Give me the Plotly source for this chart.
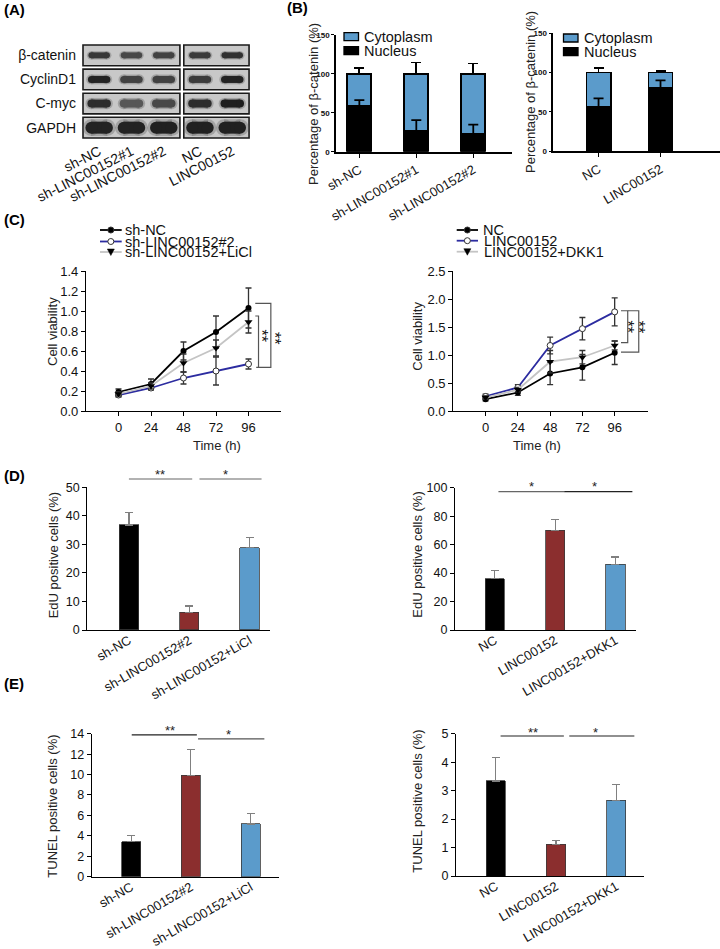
import plotly.graph_objects as go

W, H = 720, 949
FONT = "Arial, Liberation Sans, Helvetica, sans-serif"

# ------------------------------------------------------------------ data
# (A) western blot: relative band intensities (0-1), lanes left->right
blot_proteins = ["β-catenin", "CyclinD1", "C-myc", "GAPDH"]
blot_lanes_kd = ["sh-NC", "sh-LINC00152#1", "sh-LINC00152#2"]
blot_lanes_oe = ["NC", "LINC00152"]
band_beta = [0.75, 0.60, 0.65, 0.72, 0.82]
band_cyclin = [0.95, 0.65, 0.66, 0.72, 0.95]
band_myc = [0.85, 0.45, 0.60, 0.85, 1.00]
band_gapdh = [0.95, 0.95, 0.97, 0.97, 0.97]

# (B) beta-catenin localisation (%)
b_kd_groups = ["sh-NC", "sh-LINC00152#1", "sh-LINC00152#2"]
b_kd_nucleus = [58.5, 26.5, 22.2]
b_kd_nucleus_err = [7.5, 14, 12.6]
b_kd_total = [100, 100, 100]
b_kd_total_err = [7.8, 14.3, 13]
b_oe_groups = ["NC", "LINC00152"]
b_oe_nucleus = [56, 80]
b_oe_nucleus_err = [11, 10]
b_oe_total = [100, 100]
b_oe_total_err = [6, 2]
b_series = ["Cytoplasm", "Nucleus"]

# (C) cell viability
time_h = [0, 24, 48, 72, 96]
c_kd_names = ["sh-NC", "sh-LINC00152#2", "sh-LINC00152+LiCl"]
c_kd_shnc = [0.19, 0.27, 0.60, 0.79, 1.03]
c_kd_shnc_err = [0.03, 0.05, 0.09, 0.16, 0.20]
c_kd_sh2 = [0.16, 0.23, 0.33, 0.40, 0.47]
c_kd_sh2_err = [0.02, 0.02, 0.06, 0.14, 0.05]
c_kd_licl = [0.17, 0.25, 0.48, 0.63, 0.89]
c_kd_licl_err = [0.02, 0.03, 0.09, 0.08, 0.11]
c_oe_names = ["NC", "LINC00152", "LINC00152+DKK1"]
c_oe_nc = [0.21, 0.33, 0.67, 0.78, 1.04]
c_oe_nc_err = [0.03, 0.05, 0.20, 0.23, 0.21]
c_oe_linc = [0.26, 0.42, 1.17, 1.47, 1.77]
c_oe_linc_err = [0.04, 0.05, 0.15, 0.20, 0.25]
c_oe_dkk1 = [0.24, 0.38, 0.88, 0.96, 1.17]
c_oe_dkk1_err = [0.03, 0.04, 0.20, 0.12, 0.08]

# (D) EdU positive cells (%)
d_kd_groups = ["sh-NC", "sh-LINC00152#2", "sh-LINC00152+LiCl"]
d_kd_vals = [36.8, 6.2, 28.8]
d_kd_err = [4.3, 2.2, 3.7]
d_oe_groups = ["NC", "LINC00152", "LINC00152+DKK1"]
d_oe_vals = [36.1, 70.1, 46.2]
d_oe_err = [5.9, 7.7, 5.1]

# (E) TUNEL positive cells (%)
e_kd_groups = ["sh-NC", "sh-LINC00152#2", "sh-LINC00152+LiCl"]
e_kd_vals = [3.43, 9.93, 5.16]
e_kd_err = [0.57, 2.55, 1.04]
e_oe_groups = ["NC", "LINC00152", "LINC00152+DKK1"]
e_oe_vals = [3.34, 1.11, 2.66]
e_oe_err = [0.83, 0.15, 0.56]

# ------------------------------------------------------------------ style
BLACK = "#000000"
RED_BAR = "#8b2e2e"
BLUE_BAR = "#5b9bcb"
C_BLUE = "#2c2ca0"
C_GRAY = "#c4c4c4"


def dom_x(a, b):
    return [a / W, b / W]


def dom_y(top, bottom):
    return [1 - bottom / H, 1 - top / H]


def px(x):
    return x / W


def py(y):
    return 1 - y / H


fig = go.Figure()
shapes = []
annos = []

# ------------------------------------------------------------------ (A) blot
lane_pos = [0, 1, 2, 3.12, 4.12]
bands = [band_beta, band_cyclin, band_myc, band_gapdh]
band_w = [6, 7, 8, 12]
for r, row in enumerate(bands):
    for j, inten in enumerate(row):
        g = int(135 - 105 * inten)
        for wmul, half, col in ((1.4, 0.25, "rgba(95,95,95,0.35)"),
                                (1.0, 0.24, f"rgb({g},{g},{g})")):
            wpx = band_w[r] * wmul
            fig.add_trace(go.Scatter(
                x=[lane_pos[j] - half, lane_pos[j] + half], y=[r, r],
                mode="lines+markers", line=dict(color=col, width=wpx),
                marker=dict(size=wpx, color=col, line=dict(width=0)),
                xaxis="x", yaxis="y", showlegend=False, hoverinfo="skip"))
    for x0, x1 in ((-0.5, 2.5), (2.62, 4.64)):
        shapes.append(dict(type="rect", xref="x", yref="y", x0=x0, x1=x1,
                           y0=r - 0.43, y1=r + 0.43, fillcolor="#c8c8c8",
                           line=dict(color="#1a1a1a", width=1.6), layer="below"))

# ------------------------------------------------------------------ (B)
def add_b(groups, nuc, nuc_err, total, total_err, xa, ya, width):
    fig.add_trace(go.Bar(
        x=groups, y=nuc, name=b_series[1], marker=dict(color=BLACK, line=dict(color=BLACK, width=1.8)),
        width=width, xaxis=xa, yaxis=ya, showlegend=False))
    fig.add_trace(go.Bar(
        x=groups, y=[t - n for t, n in zip(total, nuc)], name=b_series[0],
        marker=dict(color=BLUE_BAR, line=dict(color=BLACK, width=1.8)),
        width=width, error_y=dict(type="data", array=total_err, arrayminus=[0] * len(nuc), symmetric=False,
                                  color=BLACK, thickness=1.8, width=5),
        xaxis=xa, yaxis=ya, showlegend=False))
    # nucleus error bars drawn on top of the stack
    fig.add_trace(go.Scatter(
        x=groups, y=nuc, mode="markers", marker=dict(size=1, opacity=0),
        error_y=dict(type="data", array=nuc_err, arrayminus=[0] * len(nuc), symmetric=False,
                     color=BLACK, thickness=1.8, width=5),
        xaxis=xa, yaxis=ya, showlegend=False, hoverinfo="skip"))


add_b(b_kd_groups, b_kd_nucleus, b_kd_nucleus_err, b_kd_total, b_kd_total_err, "x2", "y2", 0.42)
add_b(b_oe_groups, b_oe_nucleus, b_oe_nucleus_err, b_oe_total, b_oe_total_err, "x3", "y3", 0.39)

# compact legends for B
for (sx, tx, rows) in ((344, 362, (36.7, 50.7)), (563.5, 582, (38, 51.7))):
    for name, col, yy in zip(b_series, [BLUE_BAR, BLACK], rows):
        shapes.append(dict(type="rect", xref="paper", yref="paper", x0=px(sx), x1=px(sx + 14.5),
                           y0=py(yy + 4), y1=py(yy - 4), fillcolor=col,
                           line=dict(color=BLACK, width=1.3)))
        annos.append(dict(text=name, x=px(tx), y=py(yy), xref="paper", yref="paper",
                          xanchor="left", yanchor="middle", showarrow=False,
                          font=dict(family=FONT, size=14.5, color="#111")))

# ------------------------------------------------------------------ (C)
def add_c(names, ys, errs, xa, ya):
    styles = [
        dict(line=dict(color=BLACK, width=1.8), marker=dict(symbol="circle", size=6, color=BLACK)),
        dict(line=dict(color=C_BLUE, width=1.8),
             marker=dict(symbol="circle", size=6, color="white", line=dict(color="#333", width=1))),
        dict(line=dict(color=C_GRAY, width=1.8), marker=dict(symbol="triangle-down", size=7, color=BLACK)),
    ]
    for name, y, e, st in zip(names, ys, errs, styles):
        fig.add_trace(go.Scatter(
            x=time_h, y=y, name=name, mode="lines+markers", **st,
            error_y=dict(type="data", array=e, color="#333", thickness=1.3, width=3),
            xaxis=xa, yaxis=ya, showlegend=False))


add_c(c_kd_names, [c_kd_shnc, c_kd_sh2, c_kd_licl], [c_kd_shnc_err, c_kd_sh2_err, c_kd_licl_err], "x4", "y4")
add_c(c_oe_names, [c_oe_nc, c_oe_linc, c_oe_dkk1], [c_oe_nc_err, c_oe_linc_err, c_oe_dkk1_err], "x5", "y5")


def c_legend(names, lx0, lx1, tx, rows):
    cols = [BLACK, C_BLUE, C_GRAY]
    for i, (name, yy) in enumerate(zip(names, rows)):
        shapes.append(dict(type="line", xref="paper", yref="paper", x0=px(lx0), x1=px(lx1),
                           y0=py(yy), y1=py(yy), line=dict(color=cols[i], width=1.8)))
        mx = (lx0 + lx1) / 2
        if i < 2:
            shapes.append(dict(type="circle", xref="paper", yref="paper",
                               x0=px(mx - 3), x1=px(mx + 3), y0=py(yy + 3), y1=py(yy - 3),
                               fillcolor=BLACK if i == 0 else "white",
                               line=dict(color="#333", width=1)))
        else:
            path = (f"M{px(mx - 3.5)},{py(yy - 3)} L{px(mx + 3.5)},{py(yy - 3)} "
                    f"L{px(mx)},{py(yy + 3.5)} Z")
            shapes.append(dict(type="path", xref="paper", yref="paper", path=path,
                               fillcolor=BLACK, line=dict(color=BLACK, width=0.5)))
        annos.append(dict(text=name, x=px(tx), y=py(yy), xref="paper", yref="paper",
                          xanchor="left", yanchor="middle", showarrow=False,
                          font=dict(family=FONT, size=14.5, color="#111")))


c_legend(c_kd_names, 100, 121.7, 123, (230, 241.5, 252))
c_legend(c_oe_names, 456.7, 478, 481.5, (230, 240.7, 251.7))

BR = dict(color="#555", width=1.2)
for xa, ya, paths, stars in (
    ("x4", "y4",
     ["M101,0.95 L103.4,0.95 L103.4,0.437",
      "M101,1.077 L112.5,1.077 L112.5,0.437 L101.7,0.437"],
     [(105.6, 0.76), (115.5, 0.73)]),
    ("x5", "y5",
     ["M100.7,1.79 L105.7,1.79 L105.7,1.22 L100.7,1.22",
      "M105.7,1.79 L113.9,1.79 L113.9,1.05 L100.7,1.05"],
     [(106.2, 1.5), (114.3, 1.5)]),
):
    for p in paths:
        shapes.append(dict(type="path", xref=xa, yref=ya, path=p, line=BR))
    for sx, sy in stars:
        annos.append(dict(text="**", x=sx, y=sy, xref=xa, yref=ya, textangle=90,
                          showarrow=False, font=dict(family=FONT, size=16, color="#111")))

# ------------------------------------------------------------------ (D) & (E)
bar_cols = [BLACK, RED_BAR, BLUE_BAR]


def add_bars(groups, vals, errs, xa, ya):
    fig.add_trace(go.Bar(
        x=groups, y=vals, width=0.32,
        marker=dict(color=bar_cols, line=dict(color="#3a3a3a", width=0.8)),
        error_y=dict(type="data", array=errs, arrayminus=[0] * len(errs), symmetric=False,
                     color="#808080", thickness=1.2, width=4),
        xaxis=xa, yaxis=ya, showlegend=False))


add_bars(d_kd_groups, d_kd_vals, d_kd_err, "x6", "y6")
add_bars(d_oe_groups, d_oe_vals, d_oe_err, "x7", "y7")
add_bars(e_kd_groups, e_kd_vals, e_kd_err, "x8", "y8")
add_bars(e_oe_groups, e_oe_vals, e_oe_err, "x9", "y9")


def sig(ax_id, xr, ymax, lines, stars):
    # lines: (cat0, cat1, yval, colour); stars: (text, cat, yval)
    def fx(c):
        return (c - xr[0]) / (xr[1] - xr[0])
    for c0, c1, yv, col in lines:
        shapes.append(dict(type="line", xref=f"x{ax_id} domain", yref=f"y{ax_id} domain",
                           x0=fx(c0), x1=fx(c1), y0=yv / ymax, y1=yv / ymax,
                           line=dict(color=col, width=1.2)))
    for t, c, yv in stars:
        annos.append(dict(text=t, x=fx(c), y=yv / ymax, xref=f"x{ax_id} domain", yref=f"y{ax_id} domain",
                          showarrow=False, yanchor="middle",
                          font=dict(family=FONT, size=13, color="#222")))


XR6, XR7, XR8, XR9 = [-0.69, 2.34], [-0.66, 2.34], [-0.66, 2.48], [-0.66, 2.46]
sig(6, XR6, 50, [(0.0, 1.05, 52.9, "#666"), (1.17, 2.2, 52.9, "#666")],
    [("**", 0.52, 54.6), ("*", 1.67, 54.6)])
sig(7, XR7, 100, [(0.06, 1.15, 97.2, "#666"), (1.15, 2.28, 97.2, "#222")],
    [("*", 0.6, 100.8), ("*", 1.73, 100.8)])
sig(8, XR8, 14, [(0.01, 1.10, 13.88, "#222"), (1.12, 2.23, 13.5, "#555")],
    [("**", 0.65, 14.3), ("*", 1.71, 13.9)])
sig(9, XR9, 5, [(0.08, 1.13, 4.92, "#222"), (1.22, 2.30, 4.92, "#222")],
    [("**", 0.61, 5.05), ("*", 1.73, 5.05)])

# ------------------------------------------------------------------ titles / labels
def ytitle(text, x, y, size=13):
    annos.append(dict(text=text, x=px(x), y=py(y), xref="paper", yref="paper", textangle=-90,
                      showarrow=False, xanchor="center", yanchor="middle",
                      font=dict(family=FONT, size=size, color="#222")))


ytitle("Percentage of β-catenin (%)", 313, 104, 13)
ytitle("Percentage of β-catenin (%)", 530, 92, 13)
ytitle("Cell viability", 53, 332)
ytitle("Cell viability", 416.7, 336)
ytitle("EdU positive cells (%)", 53.3, 555)
ytitle("EdU positive cells (%)", 416.7, 555)
ytitle("TUNEL positive cells (%)", 51.7, 806)
ytitle("TUNEL positive cells (%)", 416.7, 801)
for x, y in ((190.5, 445), (563.3, 445)):
    annos.append(dict(text="Time (h)", x=px(x), y=py(y), xref="paper", yref="paper", showarrow=False,
                      font=dict(family=FONT, size=13, color="#222")))
for t, x, y in (("(A)", 2, 10), ("(B)", 285, 7), ("(C)", 2, 219), ("(D)", 2, 475), ("(E)", 2, 683)):
    annos.append(dict(text=f"<b>{t}</b>", x=px(x), y=py(y), xref="paper", yref="paper",
                      xanchor="left", yanchor="middle", showarrow=False,
                      font=dict(family=FONT, size=15, color="#000")))

# ------------------------------------------------------------------ axes
base = dict(showgrid=False, zeroline=False, showline=True, linecolor="black", linewidth=1.2,
            ticks="outside", ticklen=4, tickcolor="black", tickwidth=1, automargin=False,
            tickfont=dict(family=FONT, size=13, color="#111"))


def ax(**kw):
    d = dict(base)
    d.update(kw)
    return d


lay = dict(
    width=W, height=H, margin=dict(l=0, r=0, t=0, b=0), autosize=False,
    paper_bgcolor="white", plot_bgcolor="rgba(0,0,0,0)", barmode="stack",
    template="none", showlegend=False, font=dict(family=FONT),
    # blot
    xaxis=dict(domain=dom_x(81, 251), range=[-0.562, 4.70], anchor="y", showgrid=False, zeroline=False,
               showline=False, ticks="", tickvals=lane_pos, ticktext=blot_lanes_kd + blot_lanes_oe,
               tickangle=-27, tickfont=dict(family=FONT, size=14, color="#111"), automargin=False),
    yaxis=dict(domain=dom_y(43, 140), range=[3.513, -0.513], anchor="x", showgrid=False, zeroline=False,
               showline=False, ticks="", tickvals=[0, 1, 2, 3], ticktext=blot_proteins,
               ticklabelstandoff=4, tickfont=dict(family=FONT, size=14, color="#111"), automargin=False),
    # B
    xaxis2=ax(domain=dom_x(336, 512), range=[-0.41, 2.68], anchor="y2", linewidth=1.6, tickangle=-30),
    yaxis2=ax(domain=dom_y(34.7, 151.7), range=[0, 150], anchor="x2", linewidth=1.6, tickvals=[0, 50, 100, 150],
              tickfont=dict(family=FONT, size=8, color="#111", weight="bold"), ticklen=3),
    xaxis3=ax(domain=dom_x(553.3, 720), range=[-0.73, 1.96], anchor="y3", linewidth=1.6, tickangle=-30),
    yaxis3=ax(domain=dom_y(33.3, 151), range=[0, 150], anchor="x3", linewidth=1.6, tickvals=[0, 50, 100, 150],
              tickfont=dict(family=FONT, size=8, color="#111", weight="bold"), ticklen=3),
    # C
    xaxis4=ax(domain=dom_x(86, 281), range=[-24, 120], anchor="y4", tickvals=time_h),
    yaxis4=ax(domain=dom_y(271, 411), range=[0, 1.4], anchor="x4", dtick=0.2, tickformat=".1f"),
    xaxis5=ax(domain=dom_x(453.3, 648.3), range=[-24, 121], anchor="y5", tickvals=time_h),
    yaxis5=ax(domain=dom_y(271, 411), range=[0, 2.5], anchor="x5", dtick=0.5, tickformat=".1f"),
    # D
    xaxis6=ax(domain=dom_x(87.3, 270), range=XR6, anchor="y6", ticks="", tickangle=-30, ticklabelstandoff=-3),
    yaxis6=ax(domain=dom_y(487.3, 630), range=[0, 50], anchor="x6", dtick=10, tickfont=dict(family=FONT, size=12.5, color="#111")),
    xaxis7=ax(domain=dom_x(455, 636), range=XR7, anchor="y7", ticks="", tickangle=-30, ticklabelstandoff=-3),
    yaxis7=ax(domain=dom_y(487.7, 630), range=[0, 100], anchor="x7", dtick=20, tickfont=dict(family=FONT, size=12.5, color="#111")),
    # E
    xaxis8=ax(domain=dom_x(91.7, 279.3), range=XR8, anchor="y8", ticks="", tickangle=-30, ticklabelstandoff=-3),
    yaxis8=ax(domain=dom_y(733.7, 876.7), range=[0, 14], anchor="x8", dtick=2, tickfont=dict(family=FONT, size=12.5, color="#111")),
    xaxis9=ax(domain=dom_x(456, 644), range=XR9, anchor="y9", ticks="", tickangle=-30, ticklabelstandoff=-3),
    yaxis9=ax(domain=dom_y(733.7, 876), range=[0, 5], anchor="x9", dtick=1, tickfont=dict(family=FONT, size=12.5, color="#111")),
    shapes=shapes, annotations=annos,
)
fig.update_layout(**lay)
fig.write_html("out.html", config={"displayModeBar": False},
               post_script="document.body.style.margin='0';document.body.style.overflow='hidden';")
